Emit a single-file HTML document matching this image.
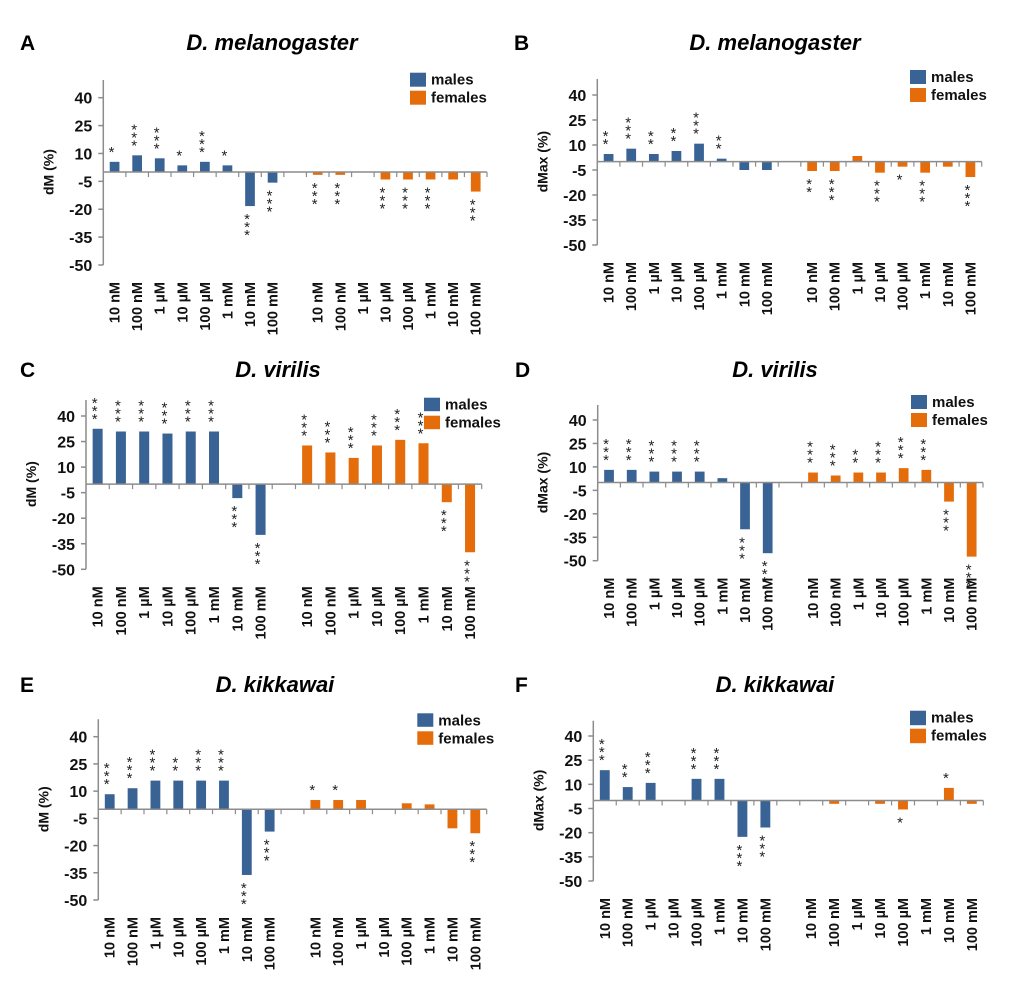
<!DOCTYPE html>
<html><head><meta charset="utf-8">
<style>
body{margin:0;background:#fff;}
svg{display:block;font-family:"Liberation Sans",Arial,sans-serif;}
</style></head>
<body>
<svg id="fig" width="1020" height="1004" viewBox="0 0 1020 1004" xmlns="http://www.w3.org/2000/svg"></svg>
<script>
const categories = ["10 nM","100 nM","1 µM","10 µM","100 µM","1 mM","10 mM","100 mM"];
const yTicks = [40,25,10,-5,-20,-35,-50];
const seriesNames = ["males","females"];

const aMales = [5.5,9,7.4,3.6,5.5,3.6,-18.3,-5.7];
const aFemales = [-1.5,-1.5,0,-4,-4,-4,-4,-10.5];
const aMaleStars = [1,3,3,1,3,1,3,3];
const aFemaleStars = [3,3,0,3,3,3,0,3];

const bMales = [4.6,7.8,4.6,6.4,10.8,1.8,-5,-5];
const bFemales = [-5.6,-5.6,3.4,-6.6,-3,-6.6,-3,-9.2];
const bMaleStars = [2,3,2,2,3,2,0,0];
const bFemaleStars = [2,3,0,3,1,3,0,3];

const cMales = [32.5,30.9,30.9,29.7,30.9,30.9,-8.2,-29.8];
const cFemales = [22.7,18.6,15.4,22.7,26,24,-10.6,-40];
const cMaleStars = [3,3,3,3,3,3,3,3];
const cFemaleStars = [3,3,3,3,3,3,3,3];

const dMales = [8.1,8.1,7,7,7,2.8,-29.9,-45.2];
const dFemales = [6.4,4.5,6.4,6.4,9.2,8.1,-12.2,-47.4];
const dMaleStars = [3,3,3,3,3,0,3,3];
const dFemaleStars = [3,3,2,3,3,3,3,3];

const eMales = [8.3,11.6,15.8,15.8,15.8,15.8,-36.2,-12.3];
const eFemales = [5.1,5.1,5.1,0,3.3,2.7,-10.5,-13.2];
const eMaleStars = [3,3,3,2,3,3,3,3];
const eFemaleStars = [1,1,0,0,0,0,0,3];

const fMales = [18.8,8.3,10.9,0,13.4,13.4,-22.6,-16.8];
const fFemales = [0,-2.1,0,-2.1,-5.6,0,7.8,-2.1];
const fMaleStars = [3,2,3,0,3,3,3,3];
const fFemaleStars = [0,0,0,0,1,0,1,0];

const NS="http://www.w3.org/2000/svg";
const svg=document.getElementById('fig');
function mk(tag,attrs,parent){const e=document.createElementNS(NS,tag);for(const k in attrs)e.setAttribute(k,attrs[k]);(parent||svg).appendChild(e);return e;}

const panels=[
 {id:'a',L:'A',title:'D. melanogaster',yl:'dM (%)',m:aMales,f:aFemales,ms:aMaleStars,fs:aFemaleStars,x0:103.3,x1:487,y40:97.7,yM50:265,top:80,letX:20,tb:50,tx:272,leg:[410,72.7,14]},
 {id:'b',L:'B',title:'D. melanogaster',yl:'dMax (%)',m:bMales,f:bFemales,ms:bMaleStars,fs:bFemaleStars,x0:597.3,x1:981.7,y40:95,yM50:245,top:79,letX:514,tb:50,tx:775,leg:[910,70,14]},
 {id:'c',L:'C',title:'D. virilis',yl:'dM (%)',m:cMales,f:cFemales,ms:cMaleStars,fs:cFemaleStars,x0:86,x1:481.7,y40:416,yM50:569.3,top:400,letX:20,tb:377,tx:278,leg:[424,397.7,13.5]},
 {id:'d',L:'D',title:'D. virilis',yl:'dMax (%)',m:dMales,f:dFemales,ms:dMaleStars,fs:dFemaleStars,x0:597.7,x1:983,y40:420,yM50:560.7,top:405,letX:515,tb:377,tx:775,leg:[911,395,14]},
 {id:'e',L:'E',title:'D. kikkawai',yl:'dM (%)',m:eMales,f:eFemales,ms:eMaleStars,fs:eFemaleStars,x0:98.3,x1:486.7,y40:736.7,yM50:900,top:719.3,letX:20,tb:692,tx:275,leg:[417.3,713.3,13.5]},
 {id:'f',L:'F',title:'D. kikkawai',yl:'dMax (%)',m:fMales,f:fFemales,ms:fMaleStars,fs:fFemaleStars,x0:593.3,x1:983.3,y40:736,yM50:881,top:720.7,letX:515,tb:692,tx:775,leg:[910,710.7,14.5]}
];
const BLUE='#3a6395', ORANGE='#e46c0a', AX='#8c8c8c';

panels.forEach(p=>{
  const g=mk('g',{});
  
  
  const k=(p.yM50-p.y40)/90;
  const y=v=>p.y40+(40-v)*k;
  const slot=(p.x1-p.x0)/17;
  const bw=slot*0.43;
  const zero=y(0);
  const lt=mk('text',{x:p.letX,y:p.tb,'font-size':21,'font-weight':'bold',fill:'#000'},g);
  lt.textContent=p.L;
  
  
  const tt=mk('text',{x:p.tx,y:p.tb,'font-size':22,'font-weight':'bold','font-style':'italic','text-anchor':'middle',fill:'#000'},g);
  tt.textContent=p.title;
  
  
  const ya=mk('line',{x1:p.x0,y1:p.top,x2:p.x0,y2:p.yM50,stroke:AX,'stroke-width':1.5},g);
  
  
  yTicks.forEach(t=>{
    mk('line',{x1:p.x0-5,y1:y(t),x2:p.x0,y2:y(t),stroke:AX,'stroke-width':1.5},g);
    const tl=mk('text',{x:p.x0-11,y:y(t)+6,'font-size':16,'font-weight':'bold','text-anchor':'end',fill:'#111'},g);
    tl.textContent=String(t);
    
    
  });
  const yl=mk('text',{x:0,y:0,'font-size':14,'font-weight':'bold','text-anchor':'middle',fill:'#111',transform:`translate(${p.x0-50},${zero}) rotate(-90)`},g);
  yl.textContent=p.yl;
  
  
  const all=[];
  p.m.forEach((v,i)=>all.push({v,s:p.ms[i],c:BLUE,slot:i,cat:categories[i],sex:'male'}));
  p.f.forEach((v,i)=>all.push({v,s:p.fs[i],c:ORANGE,slot:i+9,cat:categories[i],sex:'female'}));
  all.forEach(d=>{
    const cx=p.x0+(d.slot+0.5)*slot;
    const yv=y(d.v);
    if(d.v!==0){
      const r=mk('rect',{x:cx-bw/2,y:Math.min(yv,zero),width:bw,height:Math.abs(yv-zero),fill:d.c},g);
      
      
    }
    for(let j=0;j<d.s;j++){
      let sy = d.v>=0 ? yv-5-j*8 : yv+18+j*8;
      const st=mk('text',{x:cx-3,y:sy,'font-size':15,'text-anchor':'middle',fill:'#222'},g);
      st.textContent='*';
      
      
    }
    const xl=mk('text',{x:0,y:0,'font-size':14.5,'font-weight':'bold','text-anchor':'end',fill:'#111',transform:`translate(${cx+5},${p.yM50+17}) rotate(-90)`},g);
    xl.textContent=d.cat;
    
    
  });
  const xa=mk('line',{x1:p.x0,y1:zero,x2:p.x1,y2:zero,stroke:AX,'stroke-width':1.5},g);
  
  
  for(let i=1;i<=17;i++){
    mk('line',{x1:p.x0+i*slot,y1:zero,x2:p.x0+i*slot,y2:zero+5,stroke:AX,'stroke-width':1.2},g);
  }
  const [lx,ly,ls]=p.leg;
  seriesNames.forEach((n,i)=>{
    const yy=ly+i*18;
    const sw=mk('rect',{x:lx,y:yy,width:16,height:ls,fill:i?ORANGE:BLUE},g);
    
    
    const lt2=mk('text',{x:lx+21,y:yy+12,'font-size':15,'font-weight':'bold',fill:'#111'},g);
    lt2.textContent=n;
    
    
  });
});
</script>
</body></html>
